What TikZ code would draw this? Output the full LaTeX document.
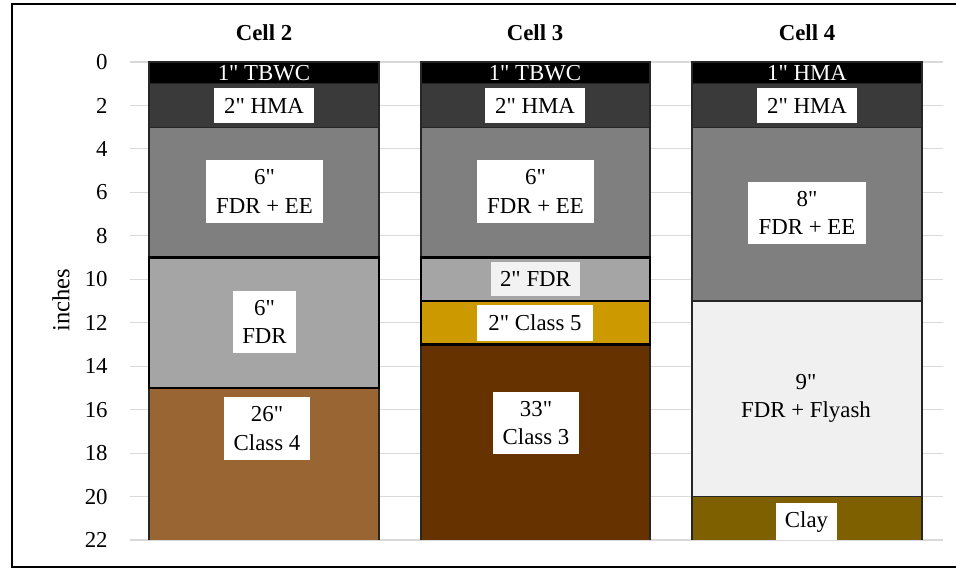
\documentclass[tikz,border=0pt]{standalone}
\usepackage{fontspec}
\setmainfont{Liberation Serif}[Ligatures=TeXOff]
\definecolor{cTop}{HTML}{000000}
\definecolor{cHMA}{HTML}{3A3A3A}
\definecolor{cFDREE}{HTML}{7F7F7F}
\definecolor{cFDR}{HTML}{A5A5A5}
\definecolor{cCl4}{HTML}{996633}
\definecolor{cCl5}{HTML}{CC9900}
\definecolor{cCl3}{HTML}{663300}
\definecolor{cFly}{HTML}{F0F0F0}
\definecolor{cClay}{HTML}{7F6000}
\definecolor{cGrid}{HTML}{D9D9D9}
\definecolor{cLbox}{HTML}{F2F2F2}
\begin{document}
\begin{tikzpicture}[x=0.02cm,y=-0.02cm,
  gridline/.style={draw=cGrid, line width=0.6pt},
  lay/.style={draw=black!85, line width=0.6pt},
  boldlay/.style={draw=black, line width=1.3pt},
  txt/.style={font=\fontsize{13}{16}\selectfont, align=center, inner sep=0pt},
  lbox/.style={txt, fill=white},
  wtxt/.style={txt, text=white},
  tick/.style={font=\fontsize{13}{16}\selectfont, anchor=east, inner sep=0pt},
  title/.style={font=\fontsize{13}{16}\selectfont\bfseries, inner sep=0pt}]
\useasboundingbox (0,0) rectangle (956,569);
\begin{scope}
\clip (0,0) rectangle (956,569);
\draw[line width=1.2pt] (12,4) rectangle (980,567);
\end{scope}
% grid and ticks
\foreach \k in {0,...,11}{
  \pgfmathsetmacro{\yy}{62+43.4545*\k}
  \pgfmathtruncatemacro{\lab}{2*\k}
  \draw[gridline] (130,\yy) -- (943,\yy);
  \node[tick] (t\k) at (108,\yy) {\lab};
}
\node[font=\fontsize{14}{16}\selectfont, rotate=90, inner sep=0pt] (ylab) at (61,300) {inches};
% titles
\node[title] (h2) at (264,33) {Cell 2};
\node[title] (h3) at (535,33) {Cell 3};
\node[title] (h4) at (807,33) {Cell 4};
% Cell 2
\fill[cTop] (149,62) rectangle (379,83.7);
\fill[cHMA] (149,83.7) rectangle (379,127.2);
\fill[cFDREE] (149,127.2) rectangle (379,257.6);
\fill[cFDR] (149,257.6) rectangle (379,388);
\fill[cCl4] (149,388) rectangle (379,540);
\draw[lay] (149,62) rectangle (379,83.7);
\draw[lay] (149,83.7) rectangle (379,127.2);
\draw[lay] (149,127.2) rectangle (379,257.6);
\draw[lay] (149,540) -- (149,388) -- (379,388) -- (379,540);
\draw[boldlay] (149,257.6) rectangle (379,388);
% Cell 3
\fill[cTop] (421,62) rectangle (650,83.7);
\fill[cHMA] (421,83.7) rectangle (650,127.2);
\fill[cFDREE] (421,127.2) rectangle (650,257.6);
\fill[cFDR] (421,257.6) rectangle (650,301);
\fill[cCl5] (421,301) rectangle (650,344.5);
\fill[cCl3] (421,344.5) rectangle (650,540);
\draw[lay] (421,62) rectangle (650,83.7);
\draw[lay] (421,83.7) rectangle (650,127.2);
\draw[lay] (421,127.2) rectangle (650,257.6);
\draw[lay] (421,540) -- (421,344.5) -- (650,344.5) -- (650,540);
\draw[boldlay] (421,257.6) rectangle (650,301);
\draw[boldlay] (421,301) rectangle (650,344.5);
% Cell 4
\fill[cTop] (692,62) rectangle (922,83.7);
\fill[cHMA] (692,83.7) rectangle (922,127.2);
\fill[cFDREE] (692,127.2) rectangle (922,301);
\fill[cFly] (692,301) rectangle (922,496.6);
\fill[cClay] (692,496.6) rectangle (922,540);
\draw[lay] (692,62) rectangle (922,83.7);
\draw[lay] (692,83.7) rectangle (922,127.2);
\draw[lay] (692,127.2) rectangle (922,301);
\draw[lay] (692,301) rectangle (922,496.6);
\draw[lay] (692,540) -- (692,496.6) -- (922,496.6) -- (922,540);
% labels cell 2
\node[wtxt] (c2a) at (264,73) {1" TBWC};
\node[lbox, minimum width=100*0.02cm, minimum height=35*0.02cm] (c2b) at (264,105.5) {2" HMA};
\node[lbox, minimum width=117*0.02cm, minimum height=63*0.02cm] (c2c) at (264.5,191.5) {6"\\FDR + EE};
\node[lbox, minimum width=63*0.02cm, minimum height=62*0.02cm] (c2d) at (264.5,322) {6"\\FDR};
\node[lbox, minimum width=86*0.02cm, minimum height=63*0.02cm] (c2e) at (267,428.5) {26"\\Class 4};
% labels cell 3
\node[wtxt] (c3a) at (535,73) {1" TBWC};
\node[lbox, minimum width=100*0.02cm, minimum height=35*0.02cm] (c3b) at (535,105.5) {2" HMA};
\node[lbox, minimum width=117*0.02cm, minimum height=63*0.02cm] (c3c) at (535.5,191.5) {6"\\FDR + EE};
\node[lbox, fill=cLbox, minimum width=89*0.02cm, minimum height=34*0.02cm] (c3d) at (535.5,279) {2" FDR};
\node[lbox, minimum width=116*0.02cm, minimum height=36*0.02cm] (c3e) at (535,323) {2" Class 5};
\node[lbox, minimum width=86*0.02cm, minimum height=62*0.02cm] (c3f) at (536,423) {33"\\Class 3};
% labels cell 4
\node[wtxt] (c4a) at (807,73) {1" HMA};
\node[lbox, minimum width=100*0.02cm, minimum height=35*0.02cm] (c4b) at (807,105.5) {2" HMA};
\node[lbox, minimum width=118*0.02cm, minimum height=62*0.02cm] (c4c) at (807,213) {8"\\FDR + EE};
\node[txt] (c4d) at (806,398) {9"\\FDR + Flyash};
\fill[white] (776,503) rectangle (837,540);
\node[txt] (c4e) at (806.5,522) {Clay};
\end{tikzpicture}
\end{document}
